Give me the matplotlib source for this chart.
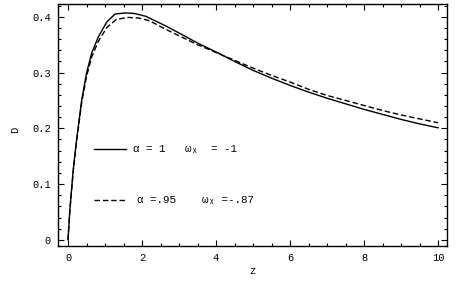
"""
plot.py — growth factor D(z) for two (alpha, w_x) models, Mathematica-style frame.
"""

import matplotlib
matplotlib.use("Agg")
import matplotlib.pyplot as plt
import matplotlib.ticker as mticker

# ── Data ───────────────────────────────────────────────────────────────────
z_solid = [0, 0.05, 0.14, 0.23, 0.37, 0.5, 0.64, 0.82, 1.05, 1.27, 1.55, 1.8,
           2.1, 2.6, 3.0, 3.5, 4.0, 4.5, 5, 5.5, 6, 6.5, 7, 7.5, 8, 8.5, 9,
           9.5, 10]
d_solid = [0, 0.054, 0.125, 0.179, 0.251, 0.299, 0.335, 0.364, 0.391, 0.405,
           0.407, 0.406, 0.401, 0.385, 0.371, 0.353, 0.337, 0.320, 0.304,
           0.290, 0.277, 0.265, 0.254, 0.244, 0.234, 0.225, 0.216, 0.208,
           0.201]

z_dash = [0, 0.05, 0.14, 0.23, 0.37, 0.5, 0.64, 0.82, 1.05, 1.3, 1.6, 1.9,
          2.2, 2.6, 3.0, 3.5, 4.0, 4.5, 5, 5.5, 6, 6.5, 7, 7.5, 8, 8.5, 9,
          9.5, 10]
d_dash = [0, 0.052, 0.122, 0.175, 0.246, 0.293, 0.328, 0.356, 0.381, 0.395,
          0.399, 0.398, 0.393, 0.379, 0.366, 0.350, 0.336, 0.322, 0.308,
          0.295, 0.283, 0.270, 0.259, 0.250, 0.241, 0.232, 0.224, 0.217,
          0.210]

label_solid = "α = 1   ωₓ  = -1"
label_dash = "α =.95    ωₓ =-.87"

x_ticks = [0, 2, 4, 6, 8, 10]
y_ticks = [0, 0.1, 0.2, 0.3, 0.4]
y_tick_labels = ["0", "0.1", "0.2", "0.3", "0.4"]

# key positions inside the frame (data coords)
key_x = [0.70, 1.57]
key_y = [0.163, 0.072]

FONT = ["Liberation Mono", "DejaVu Sans Mono"]
FS = 7.5
FS_KEY = 7.8

fig = plt.figure(figsize=(4.63, 2.86), dpi=100)
ax = fig.add_axes([0.1253, 0.1399, 0.8401, 0.8461])

ax.plot(z_solid, d_solid, color="black", linewidth=1.0)
ax.plot(z_dash, d_dash, color="black", linewidth=1.0, dashes=(4, 2))

# inline key
ax.plot(key_x, [key_y[0], key_y[0]], color="black", linewidth=1.0)
ax.plot(key_x, [key_y[1], key_y[1]], color="black", linewidth=1.0, dashes=(4, 2))
ax.text(1.75, key_y[0], label_solid, fontsize=FS_KEY, family=FONT, va="center")
ax.text(1.86, key_y[1], label_dash, fontsize=FS_KEY, family=FONT, va="center")

ax.set_xlim(-0.27, 10.24)
ax.set_ylim(-0.011, 0.423)

ax.set_xticks(x_ticks)
ax.set_xticklabels([str(t) for t in x_ticks], family=FONT, fontsize=FS)
ax.set_yticks(y_ticks)
ax.set_yticklabels(y_tick_labels, family=FONT, fontsize=FS)
ax.xaxis.set_minor_locator(mticker.MultipleLocator(0.5))
ax.yaxis.set_minor_locator(mticker.MultipleLocator(0.02))

ax.tick_params(which="both", direction="in", top=True, right=True,
               width=0.8, colors="black")
ax.tick_params(which="major", length=4, pad=5)
ax.tick_params(which="minor", length=2)

for spine in ax.spines.values():
    spine.set_linewidth(1.0)
    spine.set_color("black")

ax.set_xlabel("z", family=FONT, fontsize=FS, labelpad=2)
ax.set_ylabel("D", family=FONT, fontsize=FS)
ax.yaxis.set_label_coords(-0.098, 0.48)

fig.savefig("out.png", dpi=100, facecolor="white")
